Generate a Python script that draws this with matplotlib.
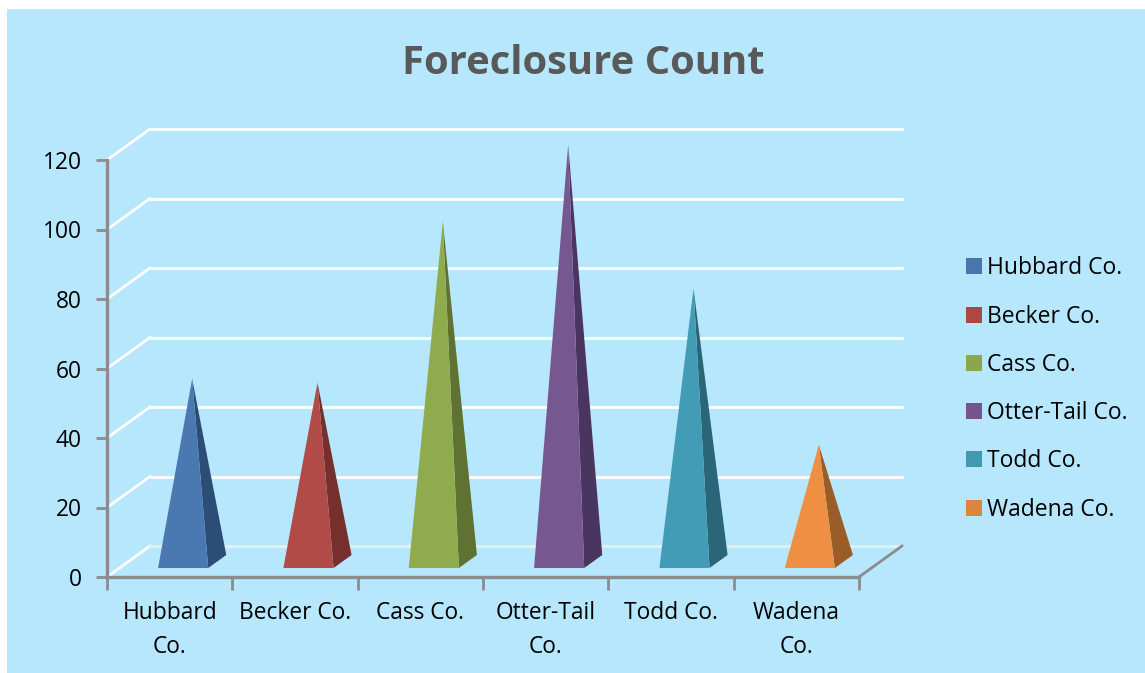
import matplotlib
matplotlib.use("Agg")
import matplotlib.pyplot as plt
from matplotlib.patches import Polygon, Rectangle, Patch

# data
counties = ['Hubbard Co.', 'Becker Co.', 'Cass Co.', 'Otter-Tail Co.', 'Todd Co.', 'Wadena Co.']
tick_labels = ['Hubbard\nCo.', 'Becker Co.', 'Cass Co.', 'Otter-Tail\nCo.', 'Todd Co.', 'Wadena\nCo.']
counts = [52.6, 51.5, 97.9, 119.9, 78.6, 33.6]
y_ticks = [0, 20, 40, 60, 80, 100, 120]

front_colors = ['#4A79B1', '#B14B47', '#8FAB4E', '#77578F', '#439CB6', '#EF8F43']
side_colors = ['#2C4D75', '#762F2C', '#5F7232', '#4A3560', '#2A6678', '#9A5D28']
legend_colors = ['#4776AC', '#AD4743', '#8BA64B', '#74548B', '#4298B0', '#DD843F']

W, H = 1145, 673
fig = plt.figure(figsize=(W / 100, H / 100), dpi=100, facecolor='white')
plt.rcParams['font.family'] = 'Open Sans'

# light blue panel
fig.patches.append(Rectangle((7 / W, 0), (W - 7) / W, (H - 9) / H, transform=fig.transFigure,
                             facecolor='#B6E7FC', edgecolor='none', zorder=-5))

# front plane of the 3D box is the axes itself
ax = fig.add_axes([107 / W, (H - 577) / H, (859 - 107) / W, (577 - 160) / H])
ax.set_xlim(0, 6)
ax.set_ylim(0, 120)
ax.patch.set_alpha(0)

# one unit of depth in data coordinates
depth_x = 43 / (752 / 6)
depth_y = 31 / (417 / 120)


def project(x, y, d):
    return x + d * depth_x, y + d * depth_y


# back wall and side wall gridlines
for v in y_ticks:
    col = '#E9EEF0' if v == 0 else 'white'
    x0, y0 = project(0, v, 0)
    x1, y1 = project(0, v, 1)
    x2, y2 = project(6, v, 1)
    ax.plot([x0, x1], [y0, y1], color='white', lw=2, clip_on=False, zorder=1)
    ax.plot([x1, x2], [y1, y2], color=col, lw=2, clip_on=False, zorder=1)

# right edge of the floor
x1, y1 = project(6, 0, 1)
ax.plot([6, x1], [0, y1], color='#8C8C8C', lw=2, clip_on=False, zorder=2)

# pyramids
for i, v in enumerate(counts):
    left, base_y = project(i + 0.308, 0, 0.29)
    right, _ = project(i + 0.708, 0, 0.29)
    back_x, back_y = project(i + 0.708, 0, 0.71)
    top_x, top_y = project(i + 0.508, v, 0.5)
    ax.add_patch(Polygon([(right, base_y), (back_x, back_y), (top_x, top_y)], closed=True,
                         facecolor=side_colors[i], edgecolor='none', clip_on=False, zorder=3))
    ax.add_patch(Polygon([(left, base_y), (right, base_y), (top_x, top_y)], closed=True,
                         facecolor=front_colors[i], edgecolor='none', clip_on=False, zorder=4))

# axes
for s in ['top', 'right']:
    ax.spines[s].set_visible(False)
for s in ['left', 'bottom']:
    ax.spines[s].set_color('#8C8C8C')
    ax.spines[s].set_linewidth(2.4)
ax.set_yticks(y_ticks)
ax.tick_params(axis='y', length=8, width=2, color='#8C8C8C', labelsize=16.4, pad=10, labelcolor='black')
ax.set_xticks(range(7), minor=True)
ax.set_xticks([i + 0.5 for i in range(6)])
ax.set_xticklabels(tick_labels, linespacing=1.6)
ax.tick_params(axis='x', which='major', length=0, labelsize=16.4, pad=17, labelcolor='black')
ax.tick_params(axis='x', which='minor', length=9, width=2, color='#8C8C8C')

# title
fig.text(583 / W, (H - 63) / H, 'Foreclosure Count', ha='center', va='center', fontsize=28.8,
         fontweight='bold', color='#595959')

# legend
handles = [Patch(facecolor=c, edgecolor='none') for c in legend_colors]
fig.legend(handles, counties, loc='center left', bbox_to_anchor=(957 / W, (H - 389) / H),
           frameon=False, fontsize=16.5, labelspacing=1.06, handlelength=0.7, handleheight=0.7,
           handletextpad=0.22, borderaxespad=0, labelcolor='black')

fig.savefig('out.png', dpi=100)
